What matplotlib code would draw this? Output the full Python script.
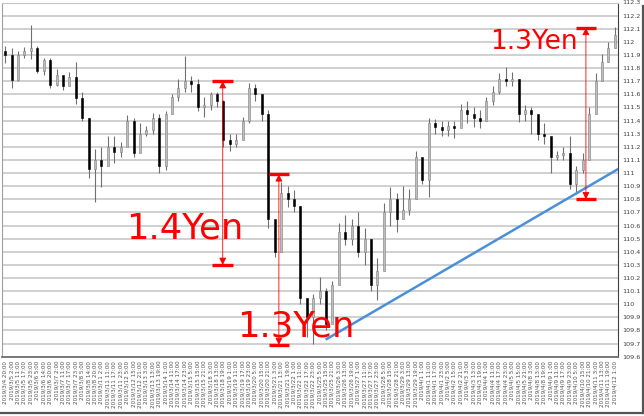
import matplotlib
matplotlib.use("Agg")
import matplotlib.pyplot as plt
from matplotlib.lines import Line2D
import numpy as np

# 6-hour candles (USD/JPY, 2019/3/4 - 2019/4/12)
first_open = 111.93
closes = [111.90, 111.71, 111.90, 111.93, 111.95, 111.78, 111.86, 111.67, 111.75, 111.66,
          111.73, 111.57, 111.42, 111.03, 111.10, 111.05, 111.20, 111.16, 111.20, 111.40,
          111.15, 111.30, 111.33, 111.42, 111.05, 111.45, 111.58, 111.65, 111.70, 111.68,
          111.50, 111.52, 111.60, 111.55, 111.25, 111.22, 111.25, 111.40, 111.65, 111.60,
          111.45, 110.65, 110.40, 110.85, 110.80, 110.75, 110.05, 109.90, 110.05, 110.10,
          109.85, 110.15, 110.55, 110.50, 110.60, 110.40, 110.50, 110.15, 110.25, 110.70,
          110.80, 110.65, 110.72, 110.80, 111.12, 110.95, 111.38, 111.35, 111.33, 111.36,
          111.34, 111.48, 111.45, 111.42, 111.40, 111.55, 111.62, 111.72, 111.70, 111.72,
          111.45, 111.48, 111.45, 111.30, 111.28, 111.12, 111.14, 111.15, 110.92, 111.02,
          111.10, 111.45, 111.70, 111.85, 111.95, 112.05]
highs = [111.97, 111.95, 111.93, 111.96, 112.13, 111.97, 111.88, 111.88, 111.79, 111.72,
         111.77, 111.85, 111.62, 111.42, 111.18, 111.20, 111.28, 111.28, 111.24, 111.44,
         111.42, 111.38, 111.36, 111.46, 111.45, 111.47, 111.60, 111.72, 111.89, 111.74,
         111.72, 111.58, 111.62, 111.62, 111.56, 111.30, 111.30, 111.43, 111.69, 111.68,
         111.58, 111.48, 110.64, 110.93, 110.90, 110.87, 110.75, 110.05, 110.08, 110.21,
         110.12, 110.18, 110.62, 110.68, 110.65, 110.70, 110.58, 110.50, 110.35, 110.77,
         110.89, 110.85, 110.90, 110.88, 111.17, 111.10, 111.42, 111.41, 111.40, 111.40,
         111.40, 111.53, 111.55, 111.50, 111.48, 111.58, 111.66, 111.76, 111.81, 111.77,
         111.72, 111.52, 111.50, 111.42, 111.38, 111.27, 111.17, 111.20, 111.28, 111.05,
         111.15, 111.50, 111.76, 111.91, 112.00, 112.11]
lows = [111.84, 111.65, 111.70, 111.88, 111.87, 111.76, 111.75, 111.65, 111.66, 111.63,
        111.66, 111.53, 111.40, 110.96, 110.78, 110.89, 111.08, 111.08, 111.12, 111.33,
        111.12, 111.18, 111.28, 111.30, 111.00, 111.02, 111.45, 111.55, 111.62, 111.62,
        111.47, 111.43, 111.48, 111.50, 111.20, 111.17, 111.20, 111.25, 111.38, 111.55,
        111.40, 110.58, 110.36, 110.40, 110.74, 110.70, 110.00, 109.75, 109.70, 110.00,
        109.80, 109.88, 110.15, 110.45, 110.45, 110.36, 110.30, 110.10, 110.03, 110.25,
        110.60, 110.55, 110.65, 110.68, 110.80, 110.92, 110.82, 111.30, 111.28, 111.28,
        111.27, 111.35, 111.38, 111.35, 111.34, 111.40, 111.52, 111.60, 111.66, 111.66,
        111.39, 111.40, 111.30, 111.25, 111.22, 111.00, 111.10, 111.10, 110.88, 110.84,
        111.00, 111.10, 111.45, 111.70, 111.85, 111.95]

# category labels (one per candle)
label_days = [("3/4", [20]), ("3/5", [2, 11, 17, 23]), ("3/6", [5, 14, 20]),
              ("3/7", [2, 11, 17, 23]), ("3/8", [5, 14, 20]), ("3/11", [2, 11, 17, 23]),
              ("3/12", [5, 15, 21]), ("3/13", [3, 13, 19]), ("3/14", [1, 11, 17, 23]),
              ("3/15", [5, 15, 21]), ("3/18", [3, 13, 19]), ("3/19", [1, 11, 17, 23]),
              ("3/20", [5, 15, 21]), ("3/21", [3, 13, 19]), ("3/22", [1, 11, 17, 23]),
              ("3/25", [5, 15, 21]), ("3/26", [3, 13, 19]), ("3/27", [1, 11, 17, 23]),
              ("3/28", [5, 15, 21]), ("3/29", [3, 13, 19]), ("4/1", [1, 11, 17, 23]),
              ("4/2", [5, 15, 21]), ("4/3", [3, 13, 19]), ("4/4", [1, 11, 17, 23]),
              ("4/5", [5, 15, 21]), ("4/8", [3, 13, 19]), ("4/9", [1, 11, 17, 23]),
              ("4/10", [5, 15, 21]), ("4/11", [3, 13, 19]), ("4/12", [1])]
labels = [f"2019/{d} {h}:00" for d, hs in label_days for h in hs]

# annotations: (x index, top, bottom) and (text, x, y, size)
ranges = [(33.9, 111.70, 110.30), (42.65, 110.99, 109.69), (90.5, 112.106, 110.80)]
notes = [("1.4Yen", 28.0, 110.574, 25.5), ("1.3Yen", 45.3, 109.827, 25.5), ("1.3Yen", 82.4, 112.0, 19)]
trend_x = [50.1, 95.5]
trend_y = [109.735, 111.03]

fig = plt.figure(figsize=(6.44, 4.16), dpi=100)
ax = fig.add_axes([2 / 644, 1 - 356.7 / 416, 616 / 644, 354.2 / 416])

n = len(closes)
x = np.arange(n)
opens = np.array([first_open] + closes[:-1])
c = np.array(closes)
up = c >= opens

ax.vlines(x, lows, highs, color="#707070", lw=0.8, zorder=3)
bottom = np.minimum(opens, c)
height = np.maximum(np.abs(c - opens), 0.006)
ax.bar(x[up], height[up], bottom=bottom[up], width=0.3, color="#bdbdbd",
       edgecolor="#808080", lw=0.4, zorder=4)
ax.bar(x[~up], height[~up], bottom=bottom[~up], width=0.3, color="black",
       edgecolor="black", lw=0.4, zorder=4)

ax.plot(trend_x, trend_y, color="#4a90d9", lw=1.8, zorder=5)

for xi, top, bot in ranges:
    ax.annotate("", xy=(xi, top), xytext=(xi, bot),
                arrowprops=dict(arrowstyle="<|-|>,head_length=0.6,head_width=0.3",
                                color="red", lw=0.6, shrinkA=0, shrinkB=0,
                                mutation_scale=7), zorder=6)
    ax.hlines([top, bot], xi - 1.6, xi + 1.6, color="red", lw=2.4, zorder=6)

for txt, tx, ty, fs in notes:
    ax.text(tx, ty, txt, color="red", fontsize=fs, ha="center", va="center", zorder=7)

ax.set_xlim(-0.5, n - 0.5)
ax.set_ylim(109.6, 112.3)

yt = np.round(np.arange(109.6, 112.301, 0.1), 1)
ax.set_yticks(yt)
ax.set_yticklabels([f"{v:g}" for v in yt])
ax.yaxis.tick_right()
ax.tick_params(axis="y", length=0, pad=3, labelsize=4.6, labelcolor="#404040")
ax.set_xticks(x)
ax.set_xticklabels(labels, rotation=90)
ax.tick_params(axis="x", length=0, pad=3, labelsize=4.1, labelcolor="#505050")

ax.yaxis.grid(True, color="#c4c4c4", lw=1.1)
ax.set_axisbelow(True)
ax.spines["left"].set_color("#a0a0a0")
ax.spines["left"].set_linewidth(0.8)
ax.spines["bottom"].set_color("#707070")
ax.spines["bottom"].set_linewidth(1.3)
ax.spines["right"].set_color("#404040")
ax.spines["right"].set_linewidth(0.8)
ax.spines["top"].set_color("#c4c4c4")

# screenshot shadow on the right and bottom
fig.add_artist(Line2D([0.0, 642.5 / 644], [1 - 413 / 416] * 2, color="#555555",
                      lw=1.6, transform=fig.transFigure))
fig.add_artist(Line2D([642.5 / 644] * 2, [1 - 6 / 416, 1 - 413 / 416], color="#555555",
                      lw=1.6, transform=fig.transFigure))

fig.savefig("out.png", dpi=100)
